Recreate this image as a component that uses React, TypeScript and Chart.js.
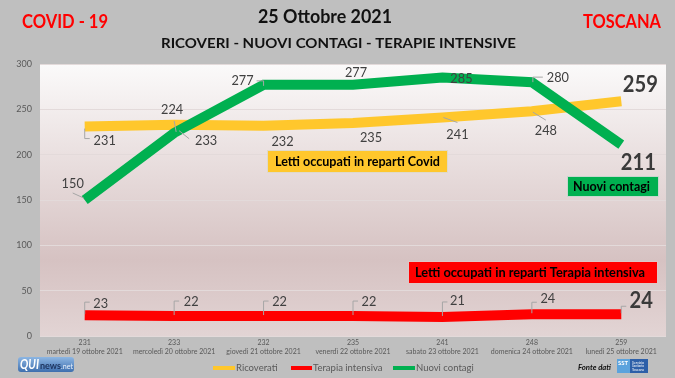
import { useEffect, useRef } from "react";
import { Chart, registerables } from "chart.js";
Chart.register(...registerables);

// ---------- DATA ----------
const categories = ["231", "233", "232", "235", "241", "248", "259"];
const dates = [
  "martedì 19 ottobre 2021",
  "mercoledì 20 ottobre 2021",
  "giovedì 21 ottobre 2021",
  "venerdì 22 ottobre 2021",
  "sabato 23 ottobre 2021",
  "domenica 24 ottobre 2021",
  "lunedì 25 ottobre 2021",
];
const ricoverati = [231, 233, 232, 235, 241, 248, 259];
const terapia = [23, 22, 22, 22, 21, 24, 24];
const contagi = [150, 224, 277, 277, 285, 280, 211];
const yMin = 0;
const yMax = 300;
const yStep = 50;

// ---------- STYLE (label offsets / leaders, px relative to point) ----------
const ricLabelOff = [[20, 14], [32, 16], [19, 16], [18, 15], [15, 17], [14, 19], [19, -16]];
const contLabelOff = [[-12, -17], [-2, -23], [-21, -4], [3, -12], [19, 1], [26, -5], [17, 18]];
const terLabelOff = [[16, -12], [17, -15], [16, -15], [16, -15], [15, -16], [16, -16], [20, -13]];
const ricLeaders: number[][][] = [
  [[0, 2], [0, 12], [5, 12]],
  [[5, 6], [15, 14]],
  [],
  [],
  [[1, 0], [15, 5]],
  [[1, 1], [14, 9]],
  [],
];
const contLeaders: number[][][] = [
  [[-12, -7], [-1, -2]],
  [[0, -12], [2, -1]],
  [[-7, -4], [0, -4], [0, 1]],
  [],
  [],
  [[1, 0], [1, -5], [11, -5]],
  [],
];
const terLeaders: number[][][] = [
  [[0, -1], [0, -13], [5, -13]],
  [[0, -1], [0, -15], [5, -15]],
  [[0, -1], [0, -15], [5, -15]],
  [[0, -1], [0, -15], [5, -15]],
  [[0, -1], [0, -15], [5, -15]],
  [[0, -1], [0, -12], [5, -12]],
  [[0, -1], [0, -8], [5, -8]],
];

const YELLOW = "#FFC72C";
const RED = "#FF0000";
const GREEN = "#00B050";
const FONT = "Lato, 'Open Sans', sans-serif";

function fitText(
  ctx: CanvasRenderingContext2D,
  str: string,
  x: number,
  y: number,
  font: string,
  color: string,
  align: "left" | "center" | "right",
  width?: number
) {
  ctx.save();
  ctx.font = font;
  ctx.fillStyle = color;
  ctx.textBaseline = "middle";
  const w = ctx.measureText(str).width;
  const sx = width ? width / w : 1;
  const drawW = w * sx;
  let left = x;
  if (align === "center") left = x - drawW / 2;
  if (align === "right") left = x - drawW;
  ctx.translate(left, y);
  ctx.scale(sx, 1);
  ctx.textAlign = "left";
  ctx.fillText(str, 0, 0);
  ctx.restore();
}

const bgPlugin = {
  id: "bgPlugin",
  beforeDraw(chart: any) {
    const { ctx, chartArea: a, width, height } = chart;
    ctx.save();
    ctx.fillStyle = "#BFBFBF";
    ctx.fillRect(0, 0, width, height);
    const g = ctx.createLinearGradient(0, a.top, 0, a.bottom);
    g.addColorStop(0, "#FBFAFA");
    g.addColorStop(0.72, "#D6C2C2");
    g.addColorStop(1, "#E2D4D4");
    ctx.fillStyle = g;
    ctx.fillRect(a.left, a.top, a.right - a.left, a.bottom - a.top);
    ctx.restore();
  },
};

const labelsPlugin = {
  id: "labelsPlugin",
  afterDatasetsDraw(chart: any) {
    const { ctx } = chart;
    const sets = [
      { idx: 0, off: ricLabelOff, lead: ricLeaders, data: ricoverati },
      { idx: 1, off: terLabelOff, lead: terLeaders, data: terapia },
      { idx: 2, off: contLabelOff, lead: contLeaders, data: contagi },
    ];
    const n = categories.length;
    sets.forEach((s) => {
      const meta = chart.getDatasetMeta(s.idx);
      meta.data.forEach((pt: any, i: number) => {
        const px = pt.x;
        const py = pt.y;
        const lead = s.lead[i];
        if (lead && lead.length > 1) {
          ctx.save();
          ctx.strokeStyle = "#A6A6A6";
          ctx.lineWidth = 1;
          ctx.beginPath();
          lead.forEach((p, k) => {
            if (k === 0) ctx.moveTo(px + p[0], py + p[1]);
            else ctx.lineTo(px + p[0], py + p[1]);
          });
          ctx.stroke();
          ctx.restore();
        }
        const last = i === n - 1;
        const [dx, dy] = s.off[i];
        const str = String(s.data[i]);
        fitText(
          ctx,
          str,
          px + dx,
          py + dy,
          last ? `bold 22px ${FONT}` : `14px ${FONT}`,
          last ? "#3A3A3A" : "#404040",
          "center",
          str.length * (last ? 11.7 : 7.4)
        );
      });
    });
  },
  afterDraw(chart: any) {
    const { ctx } = chart;
    // titles
    fitText(ctx, "COVID - 19", 22, 22, `bold 18px ${FONT}`, RED, "left", 86);
    fitText(ctx, "25 Ottobre 2021", 325, 17, `bold 18px ${FONT}`, "#111111", "center", 134);
    fitText(ctx, "RICOVERI - NUOVI CONTAGI - TERAPIE INTENSIVE", 338.5, 43, `bold 14px ${FONT}`, "#111111", "center", 355);
    fitText(ctx, "TOSCANA", 622, 22, `bold 18px ${FONT}`, RED, "center", 78);

    // annotation boxes
    const boxes = [
      { x: 267, y: 150, w: 181, h: 23, c: YELLOW, t: "Letti occupati in reparti Covid", tx: 275, tw: 165 },
      { x: 567, y: 176, w: 92, h: 21, c: GREEN, t: "Nuovi contagi", tx: 573, tw: 77 },
      { x: 408, y: 261, w: 250, h: 23, c: RED, t: "Letti occupati in reparti Terapia intensiva", tx: 415, tw: 230 },
    ];
    boxes.forEach((b) => {
      ctx.save();
      ctx.fillStyle = b.c;
      ctx.fillRect(b.x, b.y, b.w, b.h);
      ctx.strokeStyle = "rgba(220,220,220,0.9)";
      ctx.lineWidth = 1;
      ctx.strokeRect(b.x + 0.5, b.y + 0.5, b.w - 1, b.h - 1);
      ctx.restore();
      fitText(ctx, b.t, b.tx, b.y + b.h / 2 + 0.5, `bold 13px ${FONT}`, "#000000", "left", b.tw);
    });

    // legend
    const leg = [
      { c: YELLOW, t: "Ricoverati", x0: 213, x1: 235 },
      { c: RED, t: "Terapia intensiva", x0: 291, x1: 312 },
      { c: GREEN, t: "Nuovi contagi", x0: 393, x1: 415 },
    ];
    leg.forEach((l) => {
      ctx.save();
      ctx.strokeStyle = l.c;
      ctx.lineWidth = 4;
      ctx.beginPath();
      ctx.moveTo(l.x0, 368);
      ctx.lineTo(l.x1, 368);
      ctx.stroke();
      ctx.restore();
      fitText(ctx, l.t, l.x1 + 1, 368, `9.5px ${FONT}`, "#595959", "left");
    });

    // QUInews logo
    ctx.save();
    const lg = ctx.createLinearGradient(0, 357, 0, 372);
    lg.addColorStop(0, "#8DB6E3");
    lg.addColorStop(1, "#3E6FAE");
    ctx.fillStyle = lg;
    ctx.beginPath();
    (ctx as any).roundRect ? (ctx as any).roundRect(18, 357, 56, 15, 3) : ctx.rect(18, 357, 56, 15);
    ctx.fill();
    ctx.restore();
    fitText(ctx, "QUI", 20, 364.5, `bold italic 13px ${FONT}`, "#FFFFFF", "left", 19);
    fitText(ctx, "news", 40, 366, `bold 9px ${FONT}`, "#1E3560", "left", 21);
    fitText(ctx, ".net", 61, 366, `8px ${FONT}`, "#E8F0FA", "left", 12);

    // Fonte dati
    fitText(ctx, "Fonte dati", 578, 367, `bold italic 8px ${FONT}`, "#111111", "left", 33);
    ctx.save();
    ctx.fillStyle = "#5BA3DD";
    ctx.fillRect(617, 359, 13, 14);
    ctx.fillStyle = "#2D5FA8";
    ctx.fillRect(630, 359, 18, 14);
    ctx.restore();
    fitText(ctx, "SST", 618, 363, `bold 5px ${FONT}`, "#FFFFFF", "left", 10);
    fitText(ctx, "Servizio", 632, 362.5, `3.5px ${FONT}`, "#FFFFFF", "left", 12);
    fitText(ctx, "Sanitario", 632, 366, `3.5px ${FONT}`, "#FFFFFF", "left", 12);
    fitText(ctx, "Toscana", 632, 369.5, `3.5px ${FONT}`, "#FFFFFF", "left", 12);
  },
};

export default function App() {
  const ref = useRef<HTMLCanvasElement | null>(null);
  useEffect(() => {
    if (!ref.current) return;
    const chart = new Chart(ref.current, {
      type: "line",
      data: {
        labels: categories.map((c, i) => [c, dates[i]]),
        datasets: [
          {
            label: "Ricoverati",
            data: ricoverati,
            borderColor: YELLOW,
            backgroundColor: YELLOW,
            borderWidth: 10,
            pointRadius: 0,
            tension: 0,
            borderCapStyle: "butt",
            order: 2,
          },
          {
            label: "Terapia intensiva",
            data: terapia,
            borderColor: RED,
            backgroundColor: RED,
            borderWidth: 10,
            pointRadius: 0,
            tension: 0,
            borderCapStyle: "butt",
            order: 1,
          },
          {
            label: "Nuovi contagi",
            data: contagi,
            borderColor: GREEN,
            backgroundColor: GREEN,
            borderWidth: 10,
            pointRadius: 0,
            tension: 0,
            borderCapStyle: "butt",
            order: 0,
          },
        ],
      },
      options: {
        responsive: false,
        animation: false,
        layout: { padding: { top: 64, right: 9, left: 0, bottom: 0 } },
        plugins: {
          legend: { display: false },
          tooltip: { enabled: false },
          title: { display: false },
        },
        scales: {
          x: {
            offset: true,
            grid: { display: false, drawTicks: false },
            border: { display: false },
            ticks: {
              color: "#595959",
              font: { family: FONT, size: 7, lineHeight: 1.3 },
              padding: 2,
              maxRotation: 0,
              autoSkip: false,
            },
            afterFit(s: any) {
              s.height = 42;
            },
          },
          y: {
            min: yMin,
            max: yMax,
            grid: { color: "#E3DADA", lineWidth: 1, drawTicks: false },
            border: { display: false },
            ticks: {
              stepSize: yStep,
              color: "#595959",
              font: { family: FONT, size: 9 },
              padding: 8,
            },
            afterFit(s: any) {
              s.width = 40;
            },
          },
        },
      },
      plugins: [bgPlugin, labelsPlugin],
    } as any);
    return () => chart.destroy();
  }, []);
  return (
    <div style={{ position: "fixed", left: 0, top: 0, width: 675, height: 378 }}>
      <canvas ref={ref} width={675} height={378} style={{ width: 675, height: 378 }} />
    </div>
  );
}
